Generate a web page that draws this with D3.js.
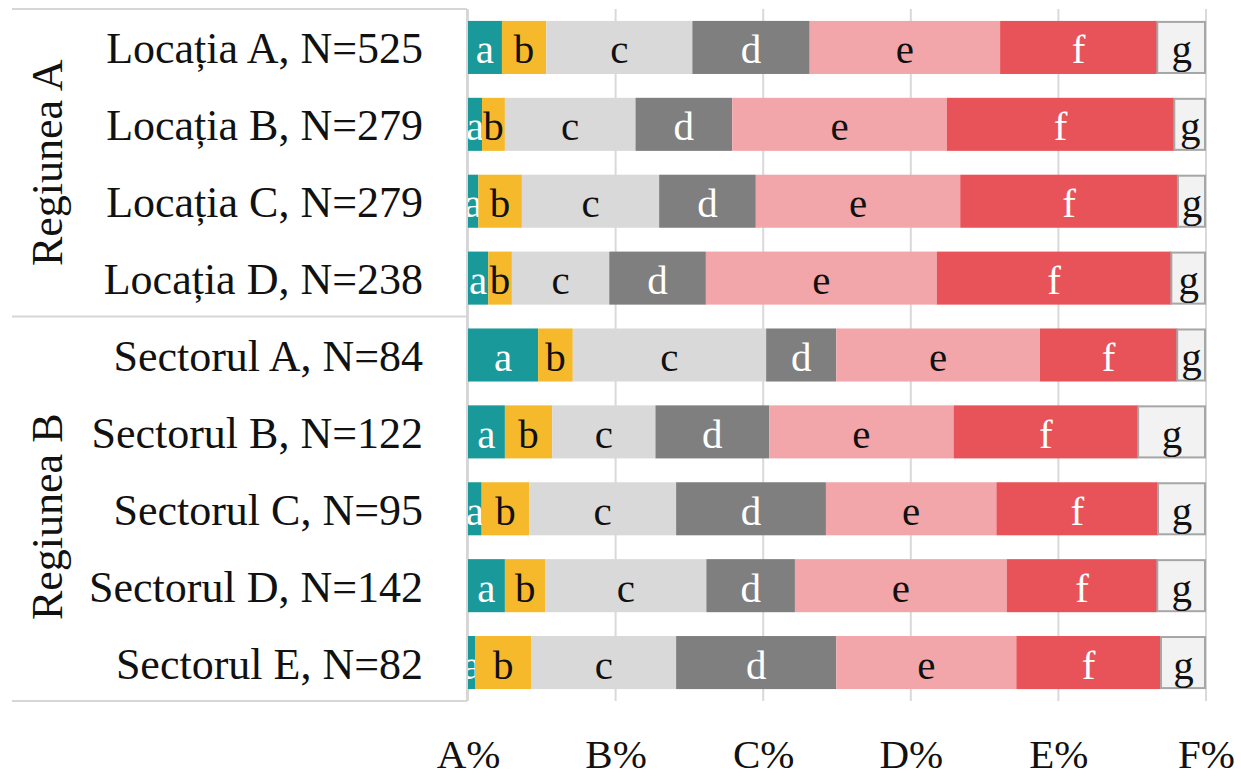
<!DOCTYPE html>
<html>
<head>
<meta charset="utf-8">
<script src="https://cdn.jsdelivr.net/npm/d3@7"></script>
<style>
  html, body { margin: 0; padding: 0; background: #ffffff; }
  svg { display: block; }
  text { font-family: "Liberation Serif", "Times New Roman", serif; }
</style>
</head>
<body>
<svg id="chart" width="1241" height="778"></svg>
<script>
// ---- data ----
const categories = [
  "Locația A, N=525",
  "Locația B, N=279",
  "Locația C, N=279",
  "Locația D, N=238",
  "Sectorul A, N=84",
  "Sectorul B, N=122",
  "Sectorul C, N=95",
  "Sectorul D, N=142",
  "Sectorul E, N=82"
];
const groups = ["Regiunea A", "Regiunea B"];
const groupSizes = [4, 5];
const seriesKeys = ["a", "b", "c", "d", "e", "f", "g"];
const aValues = [4.6, 1.9, 1.4, 2.75, 9.5, 5.0, 1.85, 5.0, 0.95];
const bValues = [6.0, 3.1, 5.9, 3.2, 4.7, 6.4, 6.45, 5.5, 7.65];
const cValues = [19.8, 17.7, 18.6, 13.2, 26.2, 14.0, 19.9, 21.8, 19.6];
const dValues = [15.9, 13.1, 13.1, 13.1, 9.5, 15.4, 20.3, 12.0, 21.7];
const eValues = [25.8, 29.1, 27.7, 31.3, 27.6, 25.0, 23.1, 28.7, 24.4];
const fValues = [21.3, 30.8, 29.5, 31.8, 18.6, 25.0, 21.9, 20.4, 19.6];
const gValues = [6.6, 4.3, 3.8, 4.7, 3.9, 9.2, 6.5, 6.6, 6.1];
const tickValues = [0, 20, 40, 60, 80, 100];
const tickLabels = ["A%", "B%", "C%", "D%", "E%", "F%"];

const seriesValues = { a: aValues, b: bValues, c: cValues, d: dValues, e: eValues, f: fValues, g: gValues };
const fillColors = { a: "#19999a", b: "#f6b92c", c: "#d9d9d9", d: "#7f7f7f", e: "#f2a6aa", f: "#e8535a", g: "#f2f2f2" };
const textColors = { a: "#ffffff", b: "#111111", c: "#111111", d: "#ffffff", e: "#111111", f: "#ffffff", g: "#111111" };

// ---- table ----
const table = categories.map((cat, i) => {
  const row = { cat };
  seriesKeys.forEach(k => row[k] = seriesValues[k][i]);
  return row;
});
// normalise to 100 %
table.forEach(r => {
  const s = d3.sum(seriesKeys, k => r[k]);
  seriesKeys.forEach(k => r[k] = r[k] / s * 100);
});

const svg = d3.select("#chart");
const plotLeft = 468, plotRight = 1206, plotTop = 9, plotBottom = 701;

const x = d3.scaleLinear().domain([0, 100]).range([plotLeft, plotRight]);
const y = d3.scaleBand().domain(categories).range([plotTop, plotBottom])
  .paddingInner(0.31).paddingOuter(0.155);

// gridlines
svg.append("g").selectAll("line").data(tickValues).join("line")
  .attr("x1", d => x(d)).attr("x2", d => x(d))
  .attr("y1", plotTop).attr("y2", plotBottom)
  .attr("stroke", "#d9d9d9").attr("stroke-width", 2);

// tick labels via axis
const xAxis = d3.axisBottom(x).tickValues(tickValues)
  .tickFormat((d, i) => tickLabels[i]).tickSize(0).tickPadding(0);
const axG = svg.append("g").attr("transform", `translate(0,${plotBottom})`).call(xAxis);
axG.select(".domain").remove();
axG.selectAll("text")
  .attr("y", 67).attr("dy", 0)
  .style("font-family", '"Liberation Serif", serif')
  .style("font-size", "41px").attr("fill", "#111");

// stacked bars
const stack = d3.stack().keys(seriesKeys)(table);
const layers = svg.append("g").selectAll("g").data(stack).join("g");
layers.selectAll("rect").data(L => L.map(d => ({ key: L.key, d }))).join("rect")
  .attr("x", o => x(o.d[0]))
  .attr("y", o => y(o.d.data.cat) + (o.key === "g" ? 1 : 0))
  .attr("width", o => Math.max(0, x(o.d[1]) - x(o.d[0]) - (o.key === "g" ? 1 : 0)))
  .attr("height", o => y.bandwidth() - (o.key === "g" ? 2 : 0))
  .attr("fill", o => fillColors[o.key])
  .attr("stroke", o => o.key === "g" ? "#a6a6a6" : "none")
  .attr("stroke-width", 2);

layers.selectAll("text").data(L => L.map(d => ({ key: L.key, d }))).join("text")
  .attr("x", o => (x(o.d[0]) + x(o.d[1])) / 2)
  .attr("y", o => y(o.d.data.cat) + y.bandwidth() / 2)
  .attr("dy", 16)
  .attr("text-anchor", "middle")
  .style("font-size", "41px")
  .attr("fill", o => textColors[o.key])
  .text(o => o.key);

// category label box
const boxG = svg.append("g");
boxG.append("rect").attr("x", 12).attr("y", plotTop).attr("width", plotLeft - 1 - 12)
  .attr("height", plotBottom - plotTop).attr("fill", "#ffffff");
const boundaries = [plotTop, y(categories[groupSizes[0]]) - y.step() * y.paddingInner() / 2, plotBottom];
boxG.selectAll("line.h").data(boundaries).join("line")
  .attr("x1", 12).attr("x2", plotLeft - 1)
  .attr("y1", d => d).attr("y2", d => d)
  .attr("stroke", "#d6d6d6").attr("stroke-width", 2);
boxG.append("line").attr("x1", plotLeft - 1).attr("x2", plotLeft - 1)
  .attr("y1", plotTop).attr("y2", plotBottom)
  .attr("stroke", "#d6d6d6").attr("stroke-width", 2);

// category labels
boxG.selectAll("text.cat").data(categories).join("text")
  .attr("class", "cat")
  .attr("x", 423)
  .attr("y", d => y(d) + y.bandwidth() / 2)
  .attr("dy", 16)
  .attr("text-anchor", "end")
  .style("font-size", "44px")
  .attr("fill", "#111")
  .text(d => d);

// group labels
let start = 0;
groups.forEach((g, gi) => {
  const first = categories[start];
  const last = categories[start + groupSizes[gi] - 1];
  const cy = (y(first) + y(last) + y.bandwidth()) / 2 + (gi === 1 ? 8 : 0);
  boxG.append("text")
    .attr("transform", `translate(62,${cy}) rotate(-90)`)
    .attr("text-anchor", "middle")
    .style("font-size", "44px")
    .attr("fill", "#111")
    .text(g);
  start += groupSizes[gi];
});
</script>
</body>
</html>
